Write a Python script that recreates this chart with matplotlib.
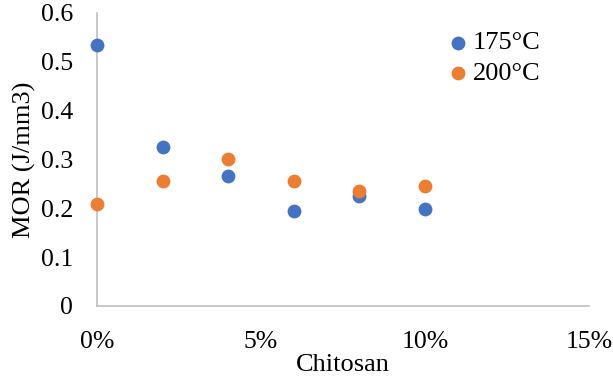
import matplotlib
matplotlib.use("Agg")
import matplotlib.pyplot as plt
from matplotlib.ticker import FuncFormatter

plt.rcParams['font.family'] = ['Liberation Serif', 'DejaVu Serif']

# chitosan content and MOR values for the two curing temperatures
chitosan = [0.00, 0.02, 0.04, 0.06, 0.08, 0.10]
mor_175 = [0.534, 0.326, 0.266, 0.195, 0.226, 0.199]
mor_200 = [0.209, 0.255, 0.301, 0.255, 0.235, 0.246]
labels = ["175°C", "200°C"]

fig = plt.figure(figsize=(6.13, 3.81), dpi=100)
ax = fig.add_axes([0.1582, 0.1969, 0.8026, 0.7690])

ax.scatter(chitosan, mor_175, s=80, color="#4472C4", label=labels[0], zorder=3, clip_on=False)
ax.scatter(chitosan, mor_200, s=80, color="#ED7D31", label=labels[1], zorder=3, clip_on=False)

ax.set_xlim(0, 0.15)
ax.set_ylim(0, 0.6)
ax.set_xticks([0, 0.05, 0.10, 0.15])
ax.set_yticks([0, 0.1, 0.2, 0.3, 0.4, 0.5, 0.6])
ax.xaxis.set_major_formatter(FuncFormatter(lambda v, p: "%d%%" % round(v * 100)))
ax.yaxis.set_major_formatter(FuncFormatter(lambda v, p: "0" if v == 0 else "%.1f" % v))
ax.tick_params(axis="both", length=0, labelsize=18.5)
ax.tick_params(axis="y", pad=17)
ax.tick_params(axis="x", pad=18)

for side in ["top", "right"]:
    ax.spines[side].set_visible(False)
for side in ["left", "bottom"]:
    ax.spines[side].set_color("#BFBFBF")
    ax.spines[side].set_linewidth(1.2)

ax.set_xlabel("Chitosan", fontsize=19, labelpad=1)
ax.set_ylabel("MOR (J/mm3)", fontsize=19, labelpad=4)

fig.legend(loc="upper left", bbox_to_anchor=(450 / 613, 1 - 31 / 381),
           frameon=False, fontsize=19, handlelength=0.6, handletextpad=0.26,
           borderpad=0, borderaxespad=0, labelspacing=0.25)

fig.savefig("out.png", dpi=100)
